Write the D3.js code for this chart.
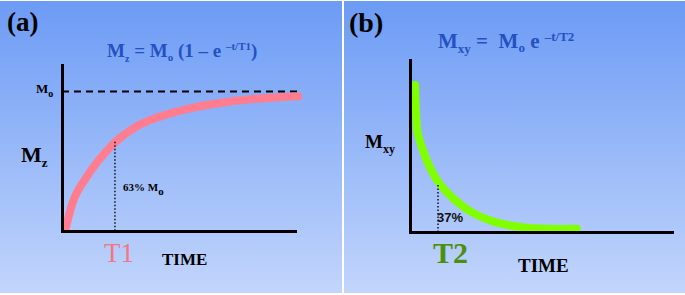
<!DOCTYPE html>
<html>
<head>
<script src="https://d3js.org/d3.v7.min.js"></script>
<style>
  body { margin: 0; background: #fff; }
</style>
</head>
<body>
<svg class="target" width="685" height="295"></svg>
<script>

// T1 recovery curve (time in T1 units, Mz in M0 units)
const t1Time = [0.07, 0.19, 0.47, 0.72, 1.0, 1.41, 1.85, 2.48, 3.11, 3.74, 4.46]
const t1Mz   = [0.02, 0.19, 0.39, 0.52, 0.635, 0.75, 0.82, 0.885, 0.925, 0.95, 0.966]

// T2 decay curve (time in T2 units, Mxy in M0 units)
const t2Time = [0.18, 0.21, 0.27, 0.48, 0.71, 1.01, 1.49, 2.2, 3.04, 3.99, 4.94, 5.95]
const t2Mxy  = [1.0, 0.84, 0.68, 0.545, 0.44, 0.34, 0.238, 0.135, 0.067, 0.033, 0.022, 0.022]

// marker lines
const m0Level = 1
const t1Mark = 1, t1MarkTop = 0.64
const t2Mark = 1, t2MarkTop = 0.32

const serif = 'Liberation Serif'

const svg = d3.select('.target')

// background gradient
const grad = svg.append('defs').append('linearGradient')
    .attr('id', 'bg').attr('x1', 0).attr('y1', 0).attr('x2', 0).attr('y2', 1)
grad.append('stop').attr('offset', '0%').attr('stop-color', '#6c9bf5')
grad.append('stop').attr('offset', '100%').attr('stop-color', '#c2d5fc')

svg.append('rect').attr('x', 0).attr('y', 1).attr('width', 342).attr('height', 292).attr('fill', 'url(#bg)')
svg.append('rect').attr('x', 344).attr('y', 1).attr('width', 341).attr('height', 292).attr('fill', 'url(#bg)')

// text with sub/superscripts: parts = [string, shift, size]
function richText(g, x, y, parts, size, color, weight) {
  const t = g.append('text')
      .attr('x', x).attr('y', y)
      .attr('font-family', serif)
      .attr('font-size', size)
      .attr('font-weight', weight || 'bold')
      .attr('fill', color || '#000')
      .attr('xml:space', 'preserve')
  let cur = 0
  parts.forEach(([s, shift, sz]) => {
    t.append('tspan').attr('dy', shift - cur).attr('font-size', sz || size).text(s)
    cur = shift
  })
  return t
}

function bareAxis(g, axis, transform) {
  g.append('g')
      .attr('transform', transform)
    .call(axis.tickValues([]).tickSizeOuter(0))
    .call(a => a.select('.domain')
      .attr('stroke', '#000')
      .attr('stroke-width', 3)
      .attr('stroke-linecap', 'square'))
}

// ---------- panel (a) ----------
const xA = d3.scaleLinear([0, 4.4], [62, 295])
const yA = d3.scaleLinear([0, 1.19], [231, 65])
const gA = svg.append('g')

gA.append('line')
    .attr('x1', xA(0)).attr('x2', xA(4.47))
    .attr('y1', yA(m0Level)).attr('y2', yA(m0Level))
    .attr('stroke', '#000').attr('stroke-width', 2)
    .attr('stroke-dasharray', '7,5')

gA.append('path')
    .datum(t1Time.map((t, i) => [t, t1Mz[i]]))
    .attr('d', d3.line(d => xA(d[0]), d => yA(d[1])).curve(d3.curveMonotoneX))
    .attr('fill', 'none')
    .attr('stroke', '#ff7d8e')
    .attr('stroke-width', 8)
    .attr('stroke-linecap', 'round')

gA.append('line')
    .attr('x1', xA(t1Mark)).attr('x2', xA(t1Mark))
    .attr('y1', yA(t1MarkTop)).attr('y2', yA(0))
    .attr('stroke', '#111').attr('stroke-width', 1.5)
    .attr('stroke-dasharray', '1.5,2')

bareAxis(gA, d3.axisLeft(yA), `translate(${xA(0)},0)`)
bareAxis(gA, d3.axisBottom(xA), `translate(0,${yA(0)})`)

richText(gA, 7, 31, [['(a)', 0]], 27)
richText(gA, 107, 57, [['M', 0], ['z', 5, 10], [' = M', 0], ['o', 4, 11],
    [' (1 – e ', 0], ['–t/T1', -7, 11], [')', 0]], 19, '#2450c4')
richText(gA, 36, yA(m0Level) + 1, [['M', 0], ['o', 4, 10]], 13)
richText(gA, 21, 162, [['M', 0], ['z', 5, 13]], 22)
richText(gA, 123, 191, [['63% M', 0], ['o', 4, 11]], 11)
richText(gA, 104, 262, [['T1', 0]], 27, '#f27687', 'normal')
richText(gA, 162, 265, [['TIME', 0]], 17)

// ---------- panel (b) ----------
const xB = d3.scaleLinear([0, 9.35], [410, 672])
const yB = d3.scaleLinear([0, 1.17], [232, 60])
const gB = svg.append('g')

gB.append('path')
    .datum(t2Time.map((t, i) => [t, t2Mxy[i]]))
    .attr('d', d3.line(d => xB(d[0]), d => yB(d[1])).curve(d3.curveCatmullRom))
    .attr('fill', 'none')
    .attr('stroke', '#80ff00')
    .attr('stroke-width', 8)
    .attr('stroke-linecap', 'round')

gB.append('line')
    .attr('x1', xB(t2Mark)).attr('x2', xB(t2Mark))
    .attr('y1', yB(t2MarkTop)).attr('y2', yB(0))
    .attr('stroke', '#111').attr('stroke-width', 1.5)
    .attr('stroke-dasharray', '1.5,2')

bareAxis(gB, d3.axisLeft(yB), `translate(${xB(0)},0)`)
bareAxis(gB, d3.axisBottom(xB), `translate(0,${yB(0)})`)

richText(gB, 349, 32, [['(b)', 0]], 28)
richText(gB, 438, 48, [['M', 0], ['xy', 5, 13], [' =  M', 0], ['o', 4, 13],
    [' e ', 0], ['–t/T2', -7, 13]], 21, '#2450c4')
richText(gB, 365, 148, [['M', 0], ['xy', 5, 12]], 19)
gB.append('text')
    .attr('x', xB(t2Mark) - 1).attr('y', 222)
    .attr('font-family', 'Liberation Sans')
    .attr('font-weight', 'bold').attr('font-size', 13)
    .attr('fill', '#111')
    .text('37%')
richText(gB, 433, 263, [['T2', 0]], 30, '#4b8f0f')
richText(gB, 518, 272, [['TIME', 0]], 19)

</script>
</body>
</html>
